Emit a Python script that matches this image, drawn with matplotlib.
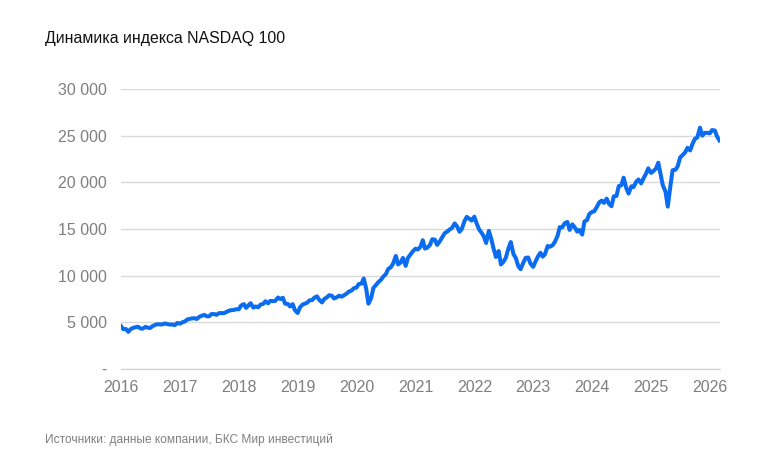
import matplotlib
matplotlib.use("Agg")
import matplotlib.pyplot as plt
import matplotlib.dates as mdates
import matplotlib.ticker as mticker
import pandas as pd

plt.rcParams['font.family'] = ['Liberation Sans', 'DejaVu Sans']

title = "Динамика индекса NASDAQ 100"
source = "Источники: данные компании, БКС Мир инвестиций"

v2016 = [4590, 4270, 4280, 3980, 4270, 4400, 4480, 4530, 4340, 4320, 4520, 4420,
         4400, 4600, 4730, 4800, 4770, 4790, 4880, 4800, 4760, 4760, 4710, 4930]
v2017 = [4860, 5000, 5100, 5310, 5370, 5420, 5440, 5360, 5590, 5700, 5800, 5650,
         5650, 5880, 5890, 5800, 5990, 5990, 5980, 6100, 6250, 6300, 6330, 6400]
v2018 = [6400, 6800, 6950, 6550, 6800, 7050, 6580, 6700, 6610, 6900, 6970, 7260,
         7040, 7300, 7270, 7300, 7660, 7500, 7630, 7000, 6970, 6700, 6950, 6300]
v2019 = [6000, 6600, 6910, 7000, 7100, 7350, 7380, 7650, 7780, 7400, 7130, 7500,
         7670, 7900, 7850, 7550, 7690, 7850, 7750, 7900, 8080, 8300, 8400, 8650]
v2020 = [8730, 9100, 9150, 9700, 8600, 7000, 7600, 8700, 9000, 9300, 9560, 9900,
         10160, 10700, 10910, 11300, 12110, 11200, 11420, 11900, 11050, 11900, 12270, 12600]
v2021 = [12890, 12800, 13100, 13800, 12900, 13000, 13300, 13900, 13860, 13300, 13690, 14100,
         14550, 14700, 14950, 15100, 15600, 15300, 14700, 15000, 15850, 16300, 16100, 15900]
v2022 = [16320, 15600, 14900, 14600, 14200, 13500, 14800, 14000, 12850, 12000, 12640, 11200,
         11500, 11900, 12950, 13600, 12300, 11900, 11000, 10700, 11400, 11900, 11950, 11300]
v2023 = [10940, 11500, 12100, 12450, 12040, 12300, 13180, 13100, 13250, 13600, 14250, 15200,
         15180, 15600, 15760, 14900, 15500, 15200, 14720, 14900, 14400, 15800, 15950, 16600]
v2024 = [16830, 16900, 17400, 17850, 18040, 17800, 18250, 17700, 17440, 18500, 18540, 19600,
         19680, 20500, 19360, 18800, 19570, 19500, 20060, 20300, 19890, 20400, 20930, 21500]
v2025 = [21010, 21200, 21480, 22100, 20880, 19700, 19000, 17400, 19570, 21300, 21340, 21700,
         22680, 22900, 23220, 23700, 23420, 24100, 24680, 24800, 25860, 25000, 25300, 25300]
v2026 = [25250, 25600, 25550, 24900, 24500]

values = v2016 + v2017 + v2018 + v2019 + v2020 + v2021 + v2022 + v2023 + v2024 + v2025 + v2026
dates = pd.date_range("2016-01-01", periods=len(values), freq="SMS")

y_ticks = [0, 5000, 10000, 15000, 20000, 25000, 30000]

fig = plt.figure(figsize=(7.79, 4.73), dpi=100)
ax = fig.add_axes([121/779, 1 - 369/473, (720 - 121)/779, (369 - 89)/473])

ax.plot(dates, values, color="#0b6cf0", lw=2.9, solid_joinstyle="round")

ax.set_ylim(0, 30000)
ax.set_xlim(pd.Timestamp("2016-01-01"), pd.Timestamp("2026-03-05"))
ax.set_yticks(y_ticks)
ax.yaxis.set_major_formatter(mticker.FuncFormatter(
    lambda v, p: "-" if v == 0 else f"{int(v):,}".replace(",", " ")))
ax.xaxis.set_major_locator(mdates.YearLocator())
ax.xaxis.set_major_formatter(mdates.DateFormatter("%Y"))

ax.grid(axis="y", color="#d9d9d9", lw=1)
ax.set_axisbelow(True)
for s in ["top", "right", "left"]:
    ax.spines[s].set_visible(False)
ax.spines["bottom"].set_color("#d0d0d0")
ax.tick_params(axis="both", length=0, labelsize=11.5, colors="#7f7f7f")
ax.tick_params(axis="y", pad=10)
ax.tick_params(axis="x", pad=8)

fig.text(45/779, 1 - 38/473, title, fontsize=11.4, color="#111111", va="center")
fig.text(45/779, 1 - 440/473, source, fontsize=8.6, color="#808080", va="center")

fig.savefig("out.png", dpi=100)
